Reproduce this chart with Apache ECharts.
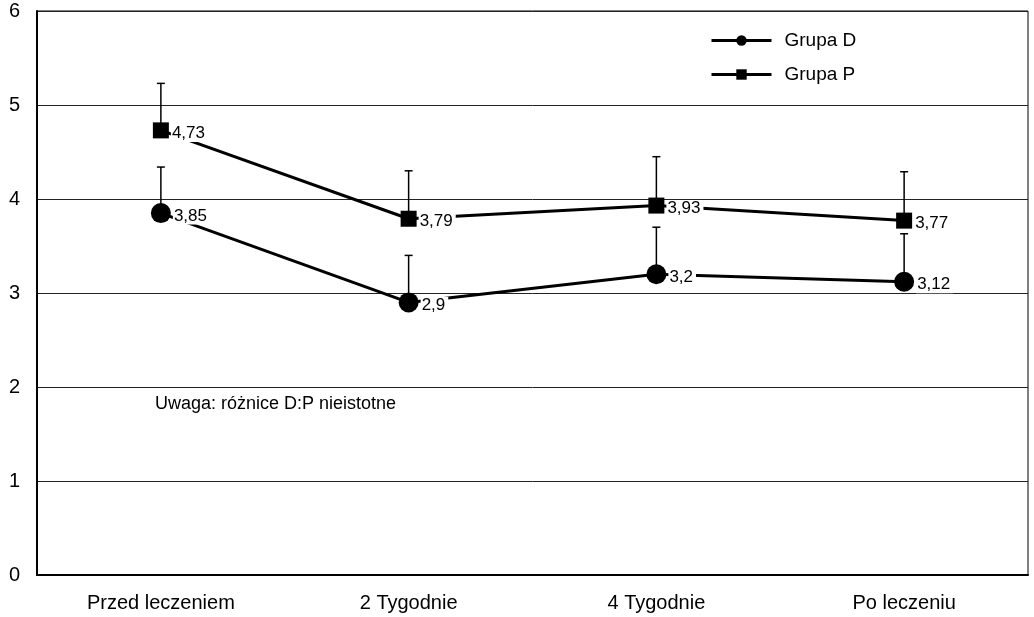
<!DOCTYPE html>
<html>
<head>
<meta charset="utf-8">
<script src="https://cdn.jsdelivr.net/npm/echarts@6/dist/echarts.min.js"></script>
<style>
  html, body { margin: 0; padding: 0; background: #fff; }
  #chart { width: 1034px; height: 617px; }
</style>
</head>
<body>
<div id="chart"></div>
<script>
// data
let categories = ['Przed leczeniem', '2 Tygodnie', '4 Tygodnie', 'Po leczeniu'];
let grupaD = [3.85, 2.9, 3.2, 3.12];
let grupaP = [4.73, 3.79, 3.93, 3.77];
// upper error (SD) above each mean
let errD = [0.49, 0.50, 0.50, 0.51];
let errP = [0.50, 0.51, 0.52, 0.52];
let yTicks = [0, 1, 2, 3, 4, 5, 6];

const FONT = '"Liberation Sans", Arial, sans-serif';

let myChart = echarts.init(document.getElementById('chart'));

function errorSeries(name, values, errs) {
    return {
        name: name + ' err',
        type: 'custom',
        z: 1,
        silent: true,
        data: values.map((v, i) => [i, v, v + errs[i]]),
        renderItem: function (params, api) {
            let base = api.coord([api.value(0), api.value(1)]);
            let top = api.coord([api.value(0), api.value(2)]);
            let cap = 4;
            return {
                type: 'group',
                children: [
                    { type: 'line', shape: { x1: base[0], y1: base[1], x2: top[0], y2: top[1] },
                      style: { stroke: '#000', lineWidth: 1.5 } },
                    { type: 'line', shape: { x1: top[0] - cap, y1: top[1], x2: top[0] + cap, y2: top[1] },
                      style: { stroke: '#000', lineWidth: 1.5 } }
                ]
            };
        }
    };
}

function lineSeries(name, values, symbol, size) {
    return {
        name: name,
        type: 'line',
        z: 3,
        data: values,
        symbol: symbol,
        symbolSize: size,
        itemStyle: { color: '#000' },
        lineStyle: { color: '#000', width: 3 },
        label: {
            show: true,
            position: 'right',
            distance: 2,
            offset: [0, 3],
            color: '#000',
            fontFamily: FONT,
            fontSize: 17,
            backgroundColor: '#fff',
            padding: [0, 3, 0, 1],
            formatter: p => String(p.value).replace('.', ',')
        }
    };
}

let option = {
    animation: false,
    backgroundColor: '#fff',
    grid: {
        left: 37, right: 6, top: 11, bottom: 42,
        show: true, borderColor: '#000', borderWidth: 1
    },
    legend: {
        orient: 'vertical',
        left: 705, top: 26,
        itemWidth: 60, itemHeight: 13,
        itemGap: 15,
        data: ['Grupa D', 'Grupa P'],
        lineStyle: { width: 3 },
        textStyle: { fontFamily: FONT, fontSize: 19, color: '#000', padding: [0, 0, 0, 8] }
    },
    xAxis: {
        type: 'category',
        data: categories,
        axisLine: { lineStyle: { color: '#000', width: 2 } },
        axisTick: { show: false },
        axisLabel: { color: '#000', fontFamily: FONT, fontSize: 20, margin: 18 }
    },
    yAxis: {
        type: 'value',
        min: yTicks[0], max: yTicks[yTicks.length - 1], interval: 1,
        axisLine: { show: true, lineStyle: { color: '#000', width: 2 } },
        axisTick: { show: false },
        axisLabel: { color: '#000', fontFamily: FONT, fontSize: 20, margin: 17 },
        splitLine: { lineStyle: { color: '#222', width: 1 } }
    },
    graphic: [{
        type: 'text',
        left: 155, top: 395,
        style: { text: 'Uwaga: różnice D:P nieistotne', font: '18px ' + FONT, fill: '#000' }
    }],
    series: [
        errorSeries('Grupa D', grupaD, errD),
        errorSeries('Grupa P', grupaP, errP),
        lineSeries('Grupa D', grupaD, 'circle', 20),
        lineSeries('Grupa P', grupaP, 'rect', 16)
    ]
};

myChart.setOption(option, true);
</script>
</body>
</html>
